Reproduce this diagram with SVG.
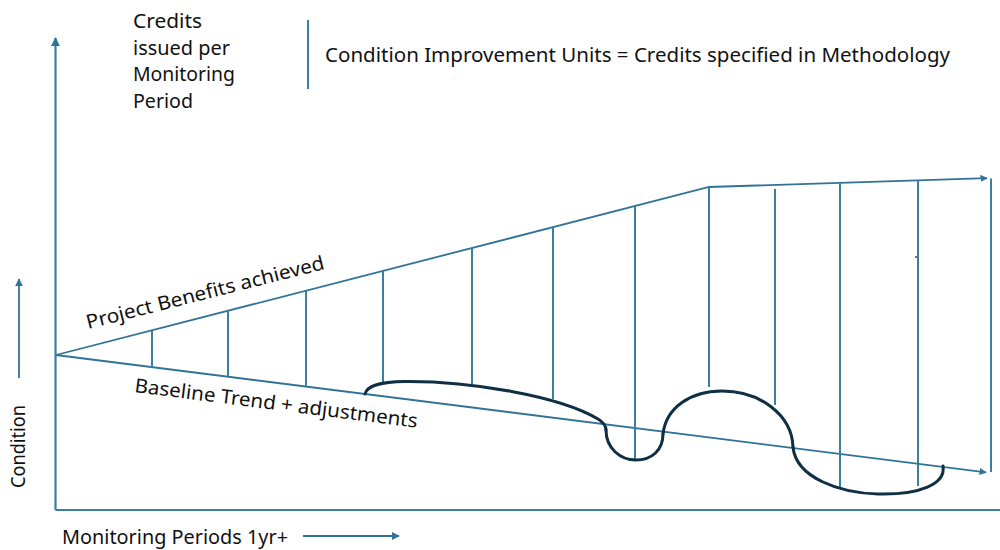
<svg xmlns="http://www.w3.org/2000/svg" width="1000" height="550" viewBox="0 0 1000 550">
  <defs>
    <marker id="arrow" viewBox="0 0 10 10" refX="9" refY="5" markerWidth="4" markerHeight="4" orient="auto" markerUnits="strokeWidth">
      <path d="M0,0 L10,5 L0,10 Z" fill="#2f7396"/>
    </marker>
    <marker id="arrowSm" viewBox="0 0 10 10" refX="9" refY="5" markerWidth="4.5" markerHeight="4.5" orient="auto" markerUnits="strokeWidth">
      <path d="M0,0 L10,5 L0,10 Z" fill="#2f7396"/>
    </marker>
  </defs>
  <style>
    .axis { stroke: #3a7ea3; stroke-width: 2.2; fill: none; }
    .line { stroke: #2f7396; stroke-width: 1.8; fill: none; }
    .tick { stroke: #3a7ea3; stroke-width: 2; fill: none; }
    .curve { stroke: #0e2f44; stroke-width: 3; fill: none; stroke-linecap: round; }
    .txt { font-family: "Noto Sans", "Liberation Sans", sans-serif; font-size: 19.5px; fill: #111; }
  </style>
  <rect width="1000" height="550" fill="#ffffff"/>

  <!-- axes -->
  <g id="axes">
    <path class="axis" d="M55.5,510 L55.5,38" marker-end="url(#arrow)"/>
    <path class="axis" d="M55.5,510 L1000,510"/>
    <path class="line" d="M19,378 L19,279" marker-end="url(#arrowSm)"/>
    <path class="line" d="M303,536 L399,536" marker-end="url(#arrowSm)"/>
    <path class="tick" d="M308,20 L308,89"/>
  </g>

  <!-- trend lines and period bars -->
  <g id="connectors">
    <path class="line" d="M56,355 L709,187 L987,178.2" marker-end="url(#arrow)"/>
    <path class="line" d="M56,355 L986,472.3" marker-end="url(#arrow)"/>
    <g class="tick">
      <path d="M152,331 L152,367"/>
      <path d="M228,311 L228,376"/>
      <path d="M306,291 L306,386"/>
      <path d="M383,271 L383,383"/>
      <path d="M472,248 L472,384"/>
      <path d="M553,227 L553,399"/>
      <path d="M635,206 L635,459"/>
      <path d="M709,187 L709,387"/>
      <path d="M775,189 L775,405"/>
      <path d="M840,183 L840,488"/>
      <path d="M918,180.5 L918,486"/>
      <path d="M991,178.5 L991,472"/>
    </g>
    <circle cx="916" cy="257" r="1.1" fill="#555"/>
  </g>

  <!-- actual condition curve -->
  <g id="curve">
    <path class="curve" stroke-width="2.6" d="M365,394 C367,386 378,382 405,381.5 C470,381 560,396 598,419 C603,422 606,425 606,430"/>
    <path class="curve" d="M606,430 C606,448 620,460 636,460 C652,460 663,450 663,434"/>
    <path class="curve" stroke-width="3.8" d="M663,434 C666,408 690,391 722,391 C760,391 792,415 793,447"/>
    <path class="curve" d="M793,447 C796,478 840,493 878,494 C920,495 946,484 943,466"/>
  </g>

  <!-- labels -->
  <g id="credits-label" class="txt">
    <text x="133" y="28" textLength="69" lengthAdjust="spacingAndGlyphs">Credits</text>
    <text x="133" y="54.5" textLength="97" lengthAdjust="spacingAndGlyphs">issued per</text>
    <text x="133" y="81" textLength="102" lengthAdjust="spacingAndGlyphs">Monitoring</text>
    <text x="133" y="108" textLength="60" lengthAdjust="spacingAndGlyphs">Period</text>
  </g>
  <g id="units-label" class="txt">
    <text x="325" y="62" textLength="625" lengthAdjust="spacingAndGlyphs">Condition Improvement Units = Credits specified in Methodology</text>
  </g>
  <g id="benefits-label" class="txt">
    <text transform="translate(88,329) rotate(-14.2)" textLength="245" lengthAdjust="spacingAndGlyphs">Project Benefits achieved</text>
  </g>
  <g id="baseline-label" class="txt">
    <text transform="translate(134,392) rotate(7.2)" textLength="285" lengthAdjust="spacingAndGlyphs">Baseline Trend + adjustments</text>
  </g>
  <g id="condition-label" class="txt">
    <text transform="translate(25,488) rotate(-90)" textLength="83" lengthAdjust="spacingAndGlyphs">Condition</text>
  </g>
  <g id="periods-label" class="txt">
    <text x="62" y="544" textLength="226" lengthAdjust="spacingAndGlyphs">Monitoring Periods 1yr+</text>
  </g>
</svg>
